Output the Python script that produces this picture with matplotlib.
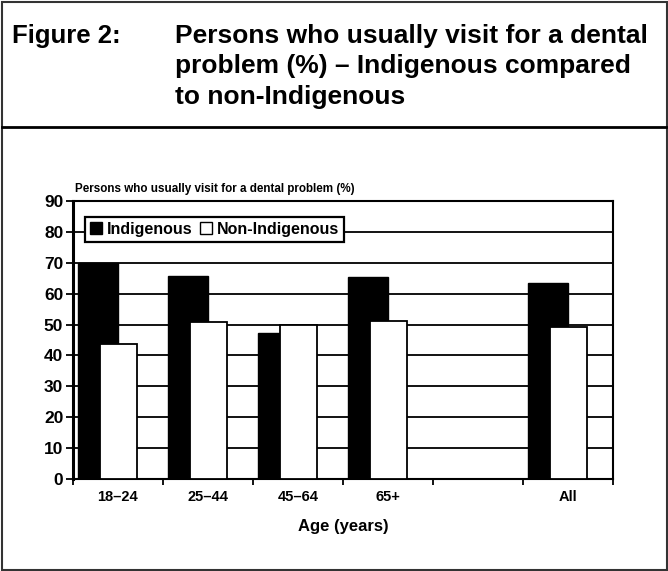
import matplotlib
matplotlib.use("Agg")
import matplotlib.pyplot as plt
from matplotlib.patches import Patch, Rectangle
from matplotlib.lines import Line2D
import numpy as np

plt.rcParams["font.family"] = ["Liberation Sans", "DejaVu Sans"]
plt.rcParams["font.weight"] = "bold"

# data
categories = ["18–24", "25–44", "45–64", "65+", "", "All"]
indigenous = [70.0, 65.7, 47.3, 65.4, np.nan, 63.6]
non_indigenous = [43.7, 50.7, 49.9, 51.3, np.nan, 49.2]
yticks = list(range(0, 100, 10))

W, H = 668, 571
fig = plt.figure(figsize=(W / 100, H / 100), dpi=100)

# axes placed in pixel terms of the reference
x0, x1, ytop, ybot = 73, 613, 201, 479
ax = fig.add_axes([x0 / W, 1 - ybot / H, (x1 - x0) / W, (ybot - ytop) / H])

slots = np.arange(len(categories))
ax.bar(slots + 0.055, indigenous, width=0.45, align="edge",
       color="black", edgecolor="black", linewidth=1, zorder=3)
ax.bar(slots + 0.30, non_indigenous, width=0.41, align="edge",
       color="white", edgecolor="black", linewidth=1.3, zorder=4)

ax.set_xlim(0, len(categories))
ax.set_ylim(0, 90)
ax.set_yticks(yticks)
ax.yaxis.grid(True, color="black", linewidth=1.3)
ax.set_axisbelow(True)
ax.tick_params(axis="y", labelsize=12.5, length=5, width=1.3, pad=2)

ax.set_xticks(np.arange(len(categories) + 1))
ax.set_xticklabels([])
ax.set_xticks(slots + 0.5, minor=True)
ax.set_xticklabels(categories, minor=True)
ax.tick_params(axis="x", which="major", length=4, width=1.3)
ax.tick_params(axis="x", which="minor", length=0, labelsize=10.5, pad=8)

for side in ["top", "right", "bottom"]:
    ax.spines[side].set_linewidth(1.5)
ax.spines["left"].set_linewidth(2.2)

handles = [Patch(facecolor="black", edgecolor="black", label="Indigenous"),
           Patch(facecolor="white", edgecolor="black", label="Non-Indigenous")]
leg = ax.legend(handles=handles, ncol=2, loc="upper left",
                bbox_to_anchor=(0.022, 0.942), borderaxespad=0,
                fancybox=False, framealpha=1, edgecolor="black",
                fontsize=11.5, handlelength=0.75, handleheight=0.75,
                handletextpad=0.3, columnspacing=0.5, borderpad=0.3)
leg.get_frame().set_linewidth(1.6)
leg.set_zorder(10)

fig.text(75 / W, 1 - 192 / H,
         "Persons who usually visit for a dental problem (%)",
         fontsize=8.4, fontweight="bold", va="baseline")
fig.text((x0 + x1) / 2 / W, 1 - 527 / H, "Age (years)",
         fontsize=12, fontweight="bold", ha="center", va="center")

# header
fig.text(12 / W, 1 - 43 / H, "Figure 2:", fontsize=18.5,
         fontweight="bold", va="baseline")
title_lines = ["Persons who usually visit for a dental",
               "problem (%) – Indigenous compared",
               "to non-Indigenous"]
for i, line in enumerate(title_lines):
    fig.text(175 / W, 1 - (43 + 30.5 * i) / H, line, fontsize=19,
             fontweight="bold", va="baseline")

fig.add_artist(Line2D([2 / W, 1 - 2 / W], [1 - 127 / H, 1 - 127 / H],
                      color="black", linewidth=2))
fig.add_artist(Rectangle((1.5 / W, 1.5 / H), 1 - 3 / W, 1 - 3 / H,
                         fill=False, edgecolor="#333333", linewidth=1.5))

plt.savefig("out.png", dpi=100)
